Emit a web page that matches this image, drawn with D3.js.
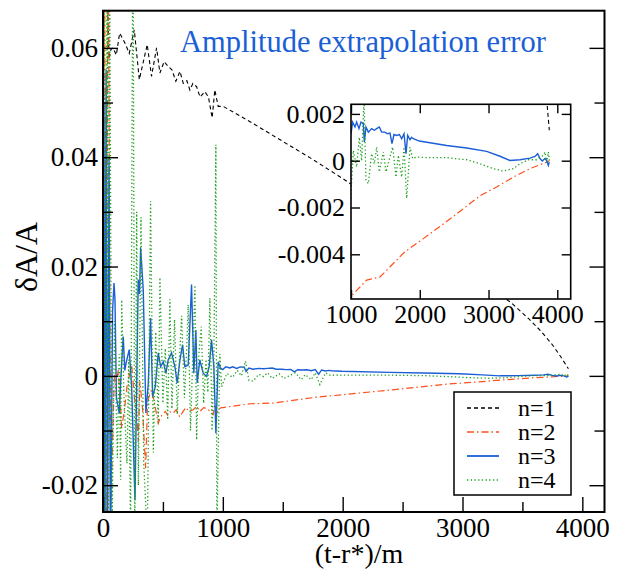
<!DOCTYPE html>
<html>
<head>
<meta charset="utf-8">
<script src="https://cdn.jsdelivr.net/npm/d3@7/dist/d3.min.js"></script>
<style>
  html, body { margin: 0; padding: 0; background: #fff; }
  svg { display: block; }
  svg text { font-family: "Liberation Serif", "Times New Roman", serif !important; }
</style>
</head>
<body>
<svg id="chart" width="621" height="569"></svg>
<script>
// ---------------- DATA ----------------
const titleText = "Amplitude extrapolation error";
const xLabel = "(t-r*)/m";
const yLabel = "δA/A";

const seriesNames = ["n=1", "n=2", "n=3", "n=4"];

const mainXTicks = [0, 1000, 2000, 3000, 4000];
const mainXMinor = [500, 1500, 2500, 3500];
const mainYTicks = [-0.02, 0, 0.02, 0.04, 0.06];
const mainYTickLabels = ["-0.02", "0", "0.02", "0.04", "0.06"];
const mainYMinor = [-0.01, 0.01, 0.03, 0.05];

const insetXTicks = [1000, 2000, 3000, 4000];
const insetYTicks = [-0.004, -0.002, 0, 0.002];
const insetYTickLabels = ["-0.004", "-0.002", "0", "0.002"];

// n=1 (black dashed)
const n1Data = [
  [0, 0.3], [25, 0.1], [40, 0.068], [50, 0.0581], [66, 0.0597], [83, 0.060], [111, 0.0587],
  [139, 0.0627], [183, 0.0609], [219, 0.059], [261, 0.0633], [303, 0.0542], [369, 0.0606],
  [405, 0.0548], [447, 0.060], [475, 0.0554], [510, 0.0575], [544, 0.0566], [575, 0.056],
  [608, 0.0539], [642, 0.0557], [670, 0.0535], [700, 0.054], [725, 0.0523], [750, 0.0535],
  [781, 0.0529], [810, 0.051], [850, 0.052], [880, 0.051], [911, 0.0472], [933, 0.0523],
  [961, 0.0493], [1003, 0.0493], [1250, 0.0462], [1500, 0.0429], [1750, 0.0396],
  [2000, 0.0361], [2250, 0.0324], [2500, 0.0285], [2750, 0.0244], [3000, 0.0200],
  [3200, 0.0164], [3400, 0.0135], [3550, 0.0105], [3650, 0.0083], [3750, 0.0057],
  [3820, 0.0035], [3884, 0.0013]
];

// n=2 (orange dash-dot)
const n2Data = [
  [0, 0], [12, 0.09], [28, -0.03], [42, 0.09], [65, -0.024], [95, 0.0], [114, -0.0007],
  [128, 0.0011], [156, -0.0096], [180, -0.006], [200, -0.002], [220, 0.0], [239, 0.002],
  [262, -0.004], [281, -0.007], [295, -0.012], [308, -0.001], [330, -0.006], [356, -0.0169],
  [370, -0.006], [380, -0.004], [405, -0.0026], [430, -0.005], [461, -0.0087], [480, -0.0075],
  [500, -0.007], [520, -0.0065], [540, -0.0072], [560, -0.0066], [586, -0.0068], [610, -0.0062],
  [640, -0.0075], [660, -0.0068], [690, -0.0058], [720, -0.0065], [753, -0.0062], [780, -0.0056],
  [810, -0.0065], [840, -0.0058], [870, -0.006], [900, -0.0066], [919, -0.0071], [935, -0.0052],
  [950, -0.007], [965, -0.0061], [989, -0.0058], [1000, -0.0058], [1228, -0.0051],
  [1422, -0.00497], [1781, -0.0039], [2052, -0.00333], [2390, -0.0026], [2634, -0.00205],
  [2878, -0.0015], [3118, -0.00112], [3362, -0.0007], [3603, -0.00034], [3847, -0.00006],
  [3884, 0.0]
];

// n=3 (blue solid)
const n3Data = [
  [0, 0], [8, 0.05], [16, -0.035], [26, 0.056], [38, -0.035], [50, 0.04], [62, -0.035],
  [80, 0.012], [92, 0.017], [100, 0.014], [112, -0.004], [136, -0.0068], [150, 0.0],
  [169, 0.0072], [182, 0.001], [192, 0.0023], [205, 0.0035], [219, 0.0048], [239, -0.002],
  [267, -0.0227], [294, 0.0176], [305, 0.015], [314, 0.0234], [336, 0.0157], [358, -0.0068],
  [378, -0.0013], [397, 0.0106], [414, -0.0038], [436, -0.002], [461, 0.0042], [481, 0.0017],
  [503, 0.0026], [525, 0.0005], [544, 0.0029], [572, 0.0042], [600, 0.0017], [619, -0.0013],
  [642, 0.0029], [664, 0.0057], [683, 0.0017], [711, 0.002], [739, 0.0167], [758, 0.0005],
  [775, 0.0084], [786, -0.0013], [808, 0.0029], [836, 0.0005], [864, -0.0001], [886, 0.0017],
  [906, 0.0066], [925, 0.0017], [942, -0.0105], [961, 0.0026], [981, 0.0014],
  [1000, 0.00115], [1024, 0.00165], [1058, 0.00144], [1082, 0.00165], [1116, 0.00137],
  [1145, 0.00165], [1179, 0.00158], [1194, 0.0008], [1218, 0.00144], [1252, 0.00122],
  [1300, 0.00137], [1339, 0.0013], [1373, 0.00137], [1412, 0.00144], [1446, 0.00122],
  [1494, 0.00122], [1528, 0.00115], [1567, 0.00118], [1596, 0.00073], [1625, 0.00112],
  [1664, 0.00108], [1703, 0.00112], [1737, 0.00094], [1771, 0.00115], [1800, 0.0003],
  [1824, 0.00108], [1858, 0.0009], [1882, 0.001], [1906, 0.00094], [1994, 0.00084],
  [2391, 0.00065], [2682, 0.00054], [2973, 0.0004], [3167, 0.00019], [3312, 0.00001],
  [3458, 0.00004], [3603, 0.00011], [3676, 0.00018], [3714, 0.0003], [3748, 0.00009],
  [3782, -0.00001], [3821, 0.00009], [3845, 0.00001], [3870, -0.0002], [3884, -0.00006]
];

// n=4 (green dotted)
const n4Data = [
  [0, 0], [10, 0.09], [22, -0.04], [34, 0.08], [46, -0.04], [53, 0.09], [75, -0.03],
  [95, 0.01], [120, -0.015], [135, 0.004], [147, -0.019], [156, 0.0139], [175, -0.004],
  [200, -0.016], [215, 0.003], [230, -0.03], [250, 0.09], [265, -0.03], [281, 0.03],
  [295, -0.02], [317, 0.029], [340, -0.016], [370, -0.03], [397, 0.032], [420, -0.014],
  [440, 0.008], [461, -0.0087], [475, 0.018], [500, -0.005], [520, 0.005], [540, -0.008],
  [558, 0.014], [575, -0.006], [597, 0.0103], [620, -0.007], [640, 0.004], [656, 0.011],
  [680, -0.004], [700, 0.006], [711, 0.013], [730, -0.01], [750, 0.004], [767, 0.0166],
  [781, -0.0117], [800, 0.004], [820, 0.009], [840, -0.005], [860, 0.003], [875, -0.003],
  [892, 0.0142], [910, -0.01], [925, 0.002], [942, 0.0423], [950, -0.03], [961, -0.0141],
  [975, 0.004], [990, -0.002], [1000, -0.0014], [1034, 0.00044], [1082, -0.00027],
  [1121, 0.001], [1155, 0.0], [1189, 0.0027], [1218, -0.00084], [1252, -0.00098],
  [1300, 0.0003], [1339, -0.00013], [1373, 0.00058], [1412, -0.00048], [1470, 0.00037],
  [1509, -0.00048], [1567, 0.00016], [1606, 0.00058], [1654, -0.0007], [1688, 0.00023],
  [1737, -0.0007], [1771, 0.00058], [1810, -0.0016], [1858, 0.00058], [1897, 0.00009],
  [1955, 0.00016], [2100, 0.00013], [2391, 0.00013], [2682, 0.00004], [2876, -0.00013],
  [3070, -0.00034], [3215, -0.00044], [3361, -0.00034], [3458, -0.00013], [3579, 0.00004],
  [3700, 0.00004], [3797, 0.00023], [3821, 0.00037], [3845, -0.00006], [3870, 0.00037],
  [3884, 0.00001]
];

const allSeries = [n1Data, n2Data, n3Data, n4Data];

// ---------------- STYLE ----------------
const FONT = "'Liberation Serif', 'Times New Roman', serif";
const styles = [
  { color: "#000000", dash: "4,3", width: 1.1 },
  { color: "#ff4f1a", dash: "7,3,1.5,3", width: 1.2 },
  { color: "#1a5fd6", dash: null, width: 1.4 },
  { color: "#20a020", dash: "1.3,2.4", width: 1.3 }
];

const svg = d3.select("#chart");

// ---------------- MAIN PLOT ----------------
const M = { left: 103, right: 604.5, top: 10.7, bottom: 512 };
const x = d3.scaleLinear().domain([0, 4185]).range([M.left, M.right]);
const y = d3.scaleLinear().domain([-0.0249, 0.0668]).range([M.bottom, M.top]);

svg.append("clipPath").attr("id", "clipMain").append("rect")
  .attr("x", M.left).attr("y", M.top).attr("width", M.right - M.left).attr("height", M.bottom - M.top);

const line = d3.line().x(d => x(d[0])).y(d => y(d[1]));
const gMain = svg.append("g").attr("clip-path", "url(#clipMain)");
allSeries.forEach((s, i) => {
  gMain.append("path").datum(s).attr("d", line)
    .attr("fill", "none").attr("stroke", styles[i].color)
    .attr("stroke-width", styles[i].width)
    .attr("stroke-dasharray", styles[i].dash);
});

function styleAxis(g, size) {
  g.select(".domain").remove();
  g.attr("font-family", null).attr("font-size", null);
  g.selectAll(".tick line").attr("stroke", "#000").attr("stroke-width", 1.4);
  g.selectAll(".tick text").attr("fill", "#000")
    .style("font-family", FONT).style("font-size", (size || 27) + "px");
}

// left major
svg.append("g").attr("transform", `translate(${M.left},0)`)
  .call(d3.axisLeft(y).tickValues(mainYTicks).tickSize(-15).tickPadding(5)
    .tickFormat((d, i) => mainYTickLabels[i]))
  .call(g => styleAxis(g, 27));
// left minor
svg.append("g").attr("transform", `translate(${M.left},0)`)
  .call(d3.axisLeft(y).tickValues(mainYMinor).tickSize(-10).tickFormat(""))
  .call(g => styleAxis(g));
// right major/minor
svg.append("g").attr("transform", `translate(${M.right},0)`)
  .call(d3.axisRight(y).tickValues(mainYTicks).tickSize(-15).tickFormat(""))
  .call(g => styleAxis(g));
svg.append("g").attr("transform", `translate(${M.right},0)`)
  .call(d3.axisRight(y).tickValues(mainYMinor).tickSize(-10).tickFormat(""))
  .call(g => styleAxis(g));
// bottom major
svg.append("g").attr("transform", `translate(0,${M.bottom})`)
  .call(d3.axisBottom(x).tickValues(mainXTicks).tickSize(-15).tickPadding(6).tickFormat(d3.format("d")))
  .call(g => styleAxis(g, 27));
svg.append("g").attr("transform", `translate(0,${M.bottom})`)
  .call(d3.axisBottom(x).tickValues(mainXMinor).tickSize(-10).tickFormat(""))
  .call(g => styleAxis(g));

// frame
svg.append("rect").attr("x", M.left).attr("y", M.top)
  .attr("width", M.right - M.left).attr("height", M.bottom - M.top)
  .attr("fill", "none").attr("stroke", "#000").attr("stroke-width", 2);

// title
svg.append("text").attr("x", 180).attr("y", 52)
  .style("font-family", FONT).style("font-size", "30.5px")
  .attr("fill", "#1a5fd6").text(titleText);

// axis labels
svg.append("text").attr("x", 359).attr("y", 563).attr("text-anchor", "middle")
  .style("font-family", FONT).style("font-size", "28px").attr("fill", "#000").text(xLabel);
svg.append("text").attr("transform", "translate(37,257) rotate(-90)")
  .attr("text-anchor", "middle")
  .style("font-family", FONT).style("font-size", "32px").attr("fill", "#000").text(yLabel);

// ---------------- INSET ----------------
const I = { left: 351, right: 570.7, top: 104.3, bottom: 299 };
const xi = d3.scaleLinear().domain([1000, 4195]).range([I.left, I.right]);
const yi = d3.scaleLinear().domain([-0.00591, 0.00241]).range([I.bottom, I.top]);

svg.append("rect").attr("x", I.left).attr("y", I.top)
  .attr("width", I.right - I.left).attr("height", I.bottom - I.top).attr("fill", "#fff");

svg.append("clipPath").attr("id", "clipInset").append("rect")
  .attr("x", I.left).attr("y", I.top).attr("width", I.right - I.left).attr("height", I.bottom - I.top);

const lineI = d3.line().x(d => xi(d[0])).y(d => yi(d[1]));
const gInset = svg.append("g").attr("clip-path", "url(#clipInset)");
allSeries.forEach((s, i) => {
  gInset.append("path").datum(s.filter(d => d[0] >= 960)).attr("d", lineI)
    .attr("fill", "none").attr("stroke", styles[i].color)
    .attr("stroke-width", styles[i].width)
    .attr("stroke-dasharray", styles[i].dash);
});

svg.append("g").attr("transform", `translate(${I.left},0)`)
  .call(d3.axisLeft(yi).tickValues(insetYTicks).tickSize(-9).tickPadding(6)
    .tickFormat((d, i) => insetYTickLabels[i]))
  .call(g => styleAxis(g, 26));
svg.append("g").attr("transform", `translate(${I.right},0)`)
  .call(d3.axisRight(yi).tickValues(insetYTicks).tickSize(-9).tickFormat(""))
  .call(g => styleAxis(g));
svg.append("g").attr("transform", `translate(0,${I.bottom})`)
  .call(d3.axisBottom(xi).tickValues(insetXTicks).tickSize(-9).tickPadding(5.5).tickFormat(d3.format("d")))
  .call(g => styleAxis(g, 26));
svg.append("g").attr("transform", `translate(0,${I.top})`)
  .call(d3.axisTop(xi).tickValues(insetXTicks).tickSize(-9).tickFormat(""))
  .call(g => styleAxis(g));

svg.append("rect").attr("x", I.left).attr("y", I.top)
  .attr("width", I.right - I.left).attr("height", I.bottom - I.top)
  .attr("fill", "none").attr("stroke", "#000").attr("stroke-width", 1.6);

// ---------------- LEGEND ----------------
const L = { x: 454, y: 392, w: 117, h: 103 };
const gLeg = svg.append("g");
gLeg.append("rect").attr("x", L.x).attr("y", L.y).attr("width", L.w).attr("height", L.h)
  .attr("fill", "#fff").attr("stroke", "#000").attr("stroke-width", 1.5);
seriesNames.forEach((name, i) => {
  const yy = 408 + i * 24;
  gLeg.append("line").attr("x1", 467).attr("x2", 499).attr("y1", yy).attr("y2", yy)
    .attr("stroke", styles[i].color).attr("stroke-width", i === 2 ? 1.8 : 1.3)
    .attr("stroke-dasharray", styles[i].dash);
  gLeg.append("text").attr("x", 518).attr("y", yy + 8)
    .style("font-family", FONT).style("font-size", "24px")
    .attr("fill", "#000").text(name);
});
</script>
</body>
</html>
